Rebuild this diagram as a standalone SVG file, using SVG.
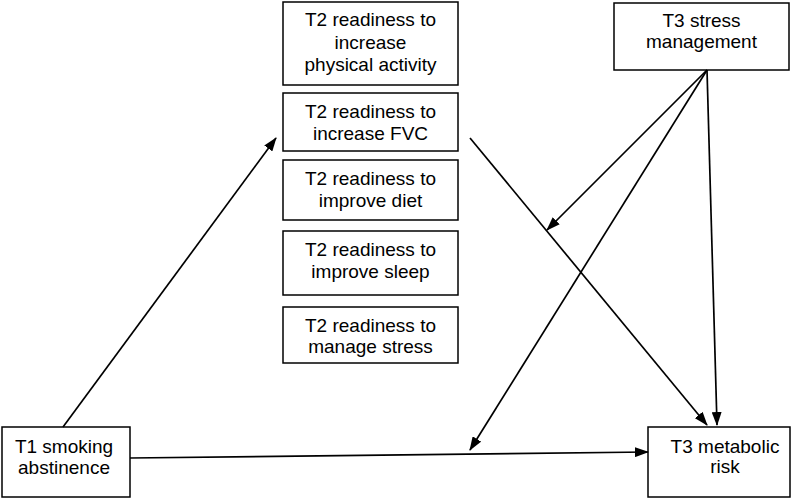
<svg xmlns="http://www.w3.org/2000/svg" width="800" height="499" viewBox="0 0 800 499">
<defs>
<marker id="ah" markerWidth="14" markerHeight="10" refX="13" refY="5" orient="auto" markerUnits="userSpaceOnUse">
<path d="M0,0 L14,5 L0,10 Z" fill="#000"/>
</marker>
<style>
.box{fill:#fff;stroke:#000;stroke-width:1.5}
.t{font-family:"Liberation Sans",Arial,sans-serif;font-size:19px;fill:#000;text-anchor:middle}
.c{stroke:#000;stroke-width:1.7;fill:none;marker-end:url(#ah)}
</style>
</defs>
<rect width="800" height="499" fill="#fff"/>
<g id="n_pa"><rect class="box" x="283" y="2" width="175" height="83"/>
<text class="t" x="370.5" y="26">T2 readiness to</text><text class="t" x="370.5" y="48.5">increase</text><text class="t" x="370.5" y="71">physical activity</text></g>
<g id="n_fvc"><rect class="box" x="283" y="93" width="175" height="58"/>
<text class="t" x="370.5" y="118">T2 readiness to</text><text class="t" x="370.5" y="140">increase FVC</text></g>
<g id="n_diet"><rect class="box" x="283" y="160" width="175" height="60"/>
<text class="t" x="370.5" y="185">T2 readiness to</text><text class="t" x="370.5" y="207">improve diet</text></g>
<g id="n_sleep"><rect class="box" x="283" y="231" width="175" height="64"/>
<text class="t" x="370.5" y="256">T2 readiness to</text><text class="t" x="370.5" y="278">improve sleep</text></g>
<g id="n_stress"><rect class="box" x="283" y="307" width="175" height="56"/>
<text class="t" x="370.5" y="332">T2 readiness to</text><text class="t" x="370.5" y="353">manage stress</text></g>
<g id="n_sm"><rect class="box" x="614" y="3" width="175" height="67"/>
<text class="t" x="701.5" y="27">T3 stress</text><text class="t" x="701.5" y="48">management</text></g>
<g id="n_t1"><rect class="box" x="2" y="427" width="128" height="70"/>
<text class="t" x="64" y="453">T1 smoking</text><text class="t" x="64" y="474">abstinence</text></g>
<g id="n_t3"><rect class="box" x="648" y="427" width="142" height="70"/>
<text class="t" x="725" y="453">T3 metabolic</text><text class="t" x="725" y="473">risk</text></g>
<g id="connectors">
<line class="c" x1="63" y1="427" x2="276" y2="138"/>
<line class="c" x1="470" y1="138" x2="707" y2="425"/>
<line class="c" x1="130" y1="458" x2="648" y2="452"/>
<line class="c" x1="707" y1="70" x2="547" y2="230"/>
<line class="c" x1="707" y1="70" x2="470" y2="450"/>
<line class="c" x1="707" y1="70" x2="717" y2="425"/>
</g>
</svg>
